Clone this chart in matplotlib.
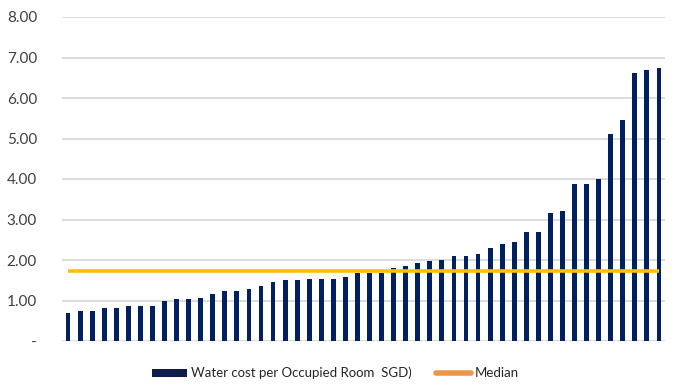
import matplotlib

matplotlib.use("Agg")
import matplotlib.pyplot as plt  # noqa: E402
import numpy as np  # noqa: E402
from matplotlib.lines import Line2D  # noqa: E402
from matplotlib.patches import Patch  # noqa: E402

# water cost per occupied room (SGD), sorted ascending
water_cost = [
    0.69, 0.73, 0.73, 0.82, 0.82, 0.86, 0.86, 0.86, 0.98, 1.03,
    1.03, 1.07, 1.16, 1.24, 1.24, 1.28, 1.37, 1.46, 1.50, 1.50,
    1.54, 1.54, 1.54, 1.58, 1.69, 1.69, 1.69, 1.80, 1.84, 1.93,
    1.98, 2.01, 2.10, 2.10, 2.14, 2.30, 2.40, 2.45, 2.70, 2.70,
    3.17, 3.21, 3.88, 3.88, 4.01, 5.12, 5.46, 6.61, 6.69, 6.74,
]
median_value = 1.72
y_ticks = [0, 1, 2, 3, 4, 5, 6, 7, 8]
y_tick_labels = ["-", "1.00", "2.00", "3.00", "4.00", "5.00", "6.00", "7.00", "8.00"]
bar_label = "Water cost per Occupied Room  SGD)"
median_label = "Median"

BAR_COLOR = "#002060"
MEDIAN_COLOR = "#FFC000"
MEDIAN_LEGEND_COLOR = "#ED9549"
GRID_COLOR = "#D9D9D9"

plt.rcParams["font.family"] = ["Lato", "DejaVu Sans"]

fig = plt.figure(figsize=(6.74, 3.86), dpi=100)
ax = fig.add_axes([62 / 674, 1 - 341 / 386, (665 - 62) / 674, (341 - 17) / 386])

x = np.arange(len(water_cost))
ax.bar(x, water_cost, width=0.4, color=BAR_COLOR, zorder=2)
ax.plot([x[0], x[-1]], [median_value] * 2, color=MEDIAN_COLOR, lw=2.6, zorder=3,
        solid_capstyle="butt")

ax.set_ylim(0, 8)
ax.set_xlim(-0.5, len(water_cost) - 0.5)
ax.set_yticks(y_ticks)
ax.set_yticklabels(y_tick_labels, fontsize=11, color="#404040")
ax.set_xticks([])
ax.tick_params(axis="y", length=0, pad=18)
ax.grid(axis="y", color=GRID_COLOR, lw=1.3, zorder=0)
for s in ax.spines.values():
    s.set_visible(False)

handles = [
    Patch(facecolor="#0E1D4A", edgecolor="none"),
    Line2D([0], [0], color=MEDIAN_LEGEND_COLOR, lw=4, solid_capstyle="round"),
]
fig.legend(handles, [bar_label, median_label], loc="center", ncol=2,
           bbox_to_anchor=(0.498, 1 - 373 / 386), frameon=False, fontsize=9.5,
           handlelength=2.6, handleheight=0.55, columnspacing=1.9, handletextpad=0.3,
           labelcolor="#262626")

fig.savefig("out.png", dpi=100)
